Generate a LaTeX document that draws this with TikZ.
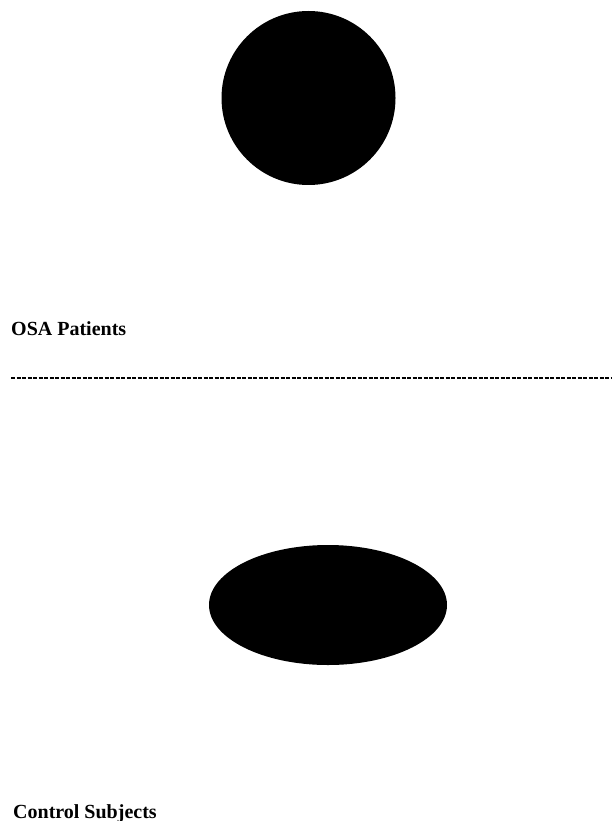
\documentclass[tikz,border=0pt]{standalone}
\usepackage{fontspec}
\setmainfont{Liberation Serif}
\usepackage{tikz}
\tikzset{grouplabel/.style={font=\fontsize{20}{24}\selectfont\bfseries,anchor=base west,inner sep=0pt}}
\newcommand{\splitline}{%
  \draw[line width=1.6pt,dash pattern=on 4pt off 1.5pt] (11,378) -- (611,378);
}
\begin{document}
\begin{tikzpicture}[x=1pt,y=-1pt]
\useasboundingbox (0,0) rectangle (611,821);
\fill[black] (308.5,98) circle (87);
\node[grouplabel] (osa) at (11,335) {OSA Patients};
\splitline
\fill[black] (328,605) ellipse (119 and 60);
\node[grouplabel] (ctrl) at (13,818) {Control Subjects};
\end{tikzpicture}
\end{document}
